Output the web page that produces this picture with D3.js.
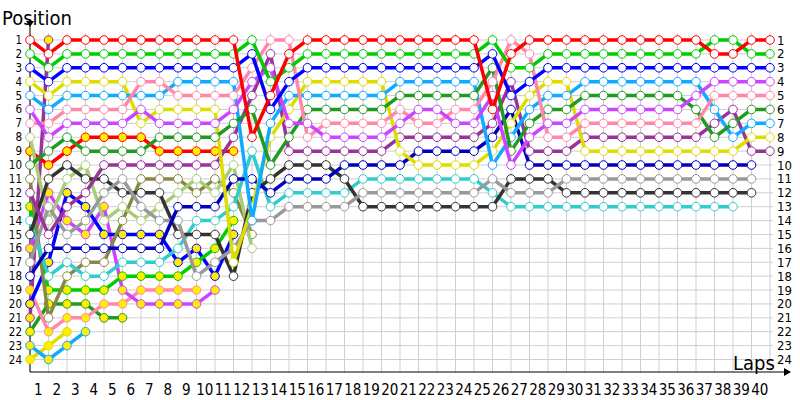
<!DOCTYPE html>
<meta charset="utf-8">
<style>
    body { margin: 0; background: #fff; }
    text { font-family: "DejaVu Sans Condensed", "DejaVu Sans", sans-serif; fill: #000; }
    .grid line { stroke: #cfcfcf; stroke-width: 1px; }
    .line { fill: none; stroke-width: 3.5px; stroke-linejoin: round; }
</style>
<svg width="800" height="400"></svg>
<script src="https://cdn.jsdelivr.net/npm/d3@7/dist/d3.min.js"></script>
<script>

    // position after each lap (index 0 = grid), null = retired
    var laps = d3.range(1, 41);
    var positions = d3.range(1, 25);

    var redW = [1,2,1,1,1,1,1,1,1,1,1,1,8,5,2,1,1,1,1,1,1,1,1,1,1,6,2,1,1,1,1,1,1,1,1,1,1,2,2,1,1];
    var greenW = [2,3,2,2,2,2,2,2,2,2,2,2,1,4,3,2,2,2,2,2,2,2,2,2,2,1,3,3,2,2,2,2,2,2,2,2,2,1,1,2,2];
    var blueW = [3,4,3,3,3,3,3,3,3,3,3,3,2,6,4,3,3,3,3,3,3,3,3,3,3,2,5,4,3,3,3,3,3,3,3,3,3,3,3,3,3];
    var yellowW = [4,5,4,4,4,4,7,6,6,6,6,17,13,8,6,4,4,4,4,4,9,10,10,10,10,9,7,5,4,4,9,9,9,9,9,9,9,9,9,8,8];
    var lightblueW = [5,6,5,5,5,5,5,5,4,4,4,4,14,7,5,5,5,5,5,5,4,4,4,4,4,10,8,6,5,5,4,4,4,4,4,4,4,6,8,7,7];
    var pinkW = [7,7,6,6,6,6,4,4,5,5,5,5,3,1,1,8,7,7,7,7,6,7,7,6,6,4,1,2,8,8,7,7,7,7,7,7,7,5,5,5,5];
    var violetW = [6,8,7,7,7,7,6,7,7,7,7,6,4,3,7,7,8,8,8,8,7,6,6,7,7,5,10,8,7,7,6,6,6,6,6,6,5,4,4,4,4];
    var dkgreenW = [10,9,8,9,9,9,9,8,8,8,8,7,6,10,8,6,6,6,6,6,5,5,5,5,5,3,9,7,6,6,5,5,5,5,5,5,6,8,7,6,6];
    var purpleW = [12,15,13,12,10,10,10,10,10,10,10,8,5,2,9,9,9,9,9,9,8,8,8,8,8,7,4,9,9,9,8,8,8,8,8,8,8,7,6,9,9];
    var navyW = [18,16,16,16,16,16,16,16,13,13,13,11,11,12,11,11,11,10,10,10,10,9,9,9,9,8,6,10,10,10,10,10,10,10,10,10,10,10,10,10,null];
    var blackW = [15,11,10,11,11,12,12,12,15,15,15,18,12,11,10,10,10,11,13,13,13,13,13,13,13,13,11,11,11,12,12,12,12,12,12,12,12,12,12,12,null];
    var cyanW = [14,18,17,18,18,17,17,17,16,14,14,13,9,13,12,12,12,12,11,11,11,11,11,11,11,12,13,13,13,13,13,13,13,13,13,13,13,13,13,null,null];
    var grayW = [17,13,15,14,12,11,13,14,14,18,17,16,14,14,13,13,13,13,12,12,12,12,12,12,12,11,12,12,12,11,11,11,11,11,11,11,11,11,11,11,null];
    var oliveW = [11,21,18,17,17,14,11,11,11,12,11,12,15];
    var lightgreenW = [8,14,11,10,14,13,14,13,12,11,12,10,16];
    var redY = [9,10,9,8,8,8,8,9,9,9,9,9];
    var greenY = [13,19,19,19,19,18,18,18,18,17,16,14];
    var blueY = [20,17,12,13,15,15,15,15,17,16,18,15];
    var yellowY = [24,23,22];
    var lightblueY = [23,24,23,22];
    var pinkY = [19,22,21,21,20,20,19,19,19,19];
    var violetY = [16,12,14,15,13,19,20,20,20,20,19];
    var dkgreenY = [22,20,20,20,21,21];
    var purpleY = [21,1];

    var series = [
        {pos: purpleY, color: "#993399", fill: "#ffee00"},
        {pos: dkgreenY, color: "#229922", fill: "#ffee00"},
        {pos: yellowY, color: "#dddd00", fill: "#ffee00"},
        {pos: lightblueY, color: "#11aaff", fill: "#ffee00"},
        {pos: pinkY, color: "#ff88aa", fill: "#ffee00"},
        {pos: violetY, color: "#cc44ff", fill: "#ffee00"},
        {pos: blueY, color: "#0000ff", fill: "#ffee00"},
        {pos: greenY, color: "#00cc00", fill: "#ffee00"},
        {pos: redY, color: "#ff0000", fill: "#ffee00"},
        {pos: oliveW, color: "#888844", fill: "#fff"},
        {pos: lightgreenW, color: "#aacc77", fill: "#fff"},
        {pos: cyanW, color: "#33cccc", fill: "#fff"},
        {pos: blackW, color: "#333333", fill: "#fff"},
        {pos: grayW, color: "#999999", fill: "#fff"},
        {pos: navyW, color: "#0000bb", fill: "#fff"},
        {pos: purpleW, color: "#993399", fill: "#fff"},
        {pos: yellowW, color: "#dddd00", fill: "#fff"},
        {pos: lightblueW, color: "#11aaff", fill: "#fff"},
        {pos: dkgreenW, color: "#229922", fill: "#fff"},
        {pos: pinkW, color: "#ff88aa", fill: "#fff"},
        {pos: violetW, color: "#cc44ff", fill: "#fff"},
        {pos: blueW, color: "#0000ff", fill: "#fff"},
        {pos: greenW, color: "#00cc00", fill: "#fff"},
        {pos: redW, color: "#ff0000", fill: "#fff"}
    ];

    var svg = d3.select("svg");

    var x = d3.scaleLinear().domain([0, 40]).range([30, 770]),
        y = d3.scaleLinear().domain([1, 24]).range([40, 359.5]);

    var grid = svg.append("g").attr("class", "grid");
    grid.selectAll(".v").data(d3.range(0, 41)).enter().append("line")
        .attr("x1", function(d) { return x(d); })
        .attr("x2", function(d) { return x(d); })
        .attr("y1", 33).attr("y2", 372);
    grid.selectAll(".h").data(positions).enter().append("line")
        .attr("x1", 30).attr("x2", 773)
        .attr("y1", function(d) { return y(d); })
        .attr("y2", function(d) { return y(d); });

    // axes
    svg.append("line").attr("x1", 30).attr("x2", 30).attr("y1", 372).attr("y2", 26)
        .attr("stroke", "#000").attr("stroke-width", 1);
    svg.append("path").attr("d", "M26,21L34,21L30,27Z").attr("fill", "#000");
    svg.append("line").attr("x1", 30).attr("x2", 790).attr("y1", 372).attr("y2", 372)
        .attr("stroke", "#000").attr("stroke-width", 1);
    svg.append("path").attr("d", "M784,368L791,372L784,376Z").attr("fill", "#000");

    svg.append("text").attr("x", 2).attr("y", 25).style("font-size", "20px").text("Position");
    svg.append("text").attr("x", 733).attr("y", 370).style("font-size", "20px").text("Laps");

    svg.append("g").selectAll("text").data(positions).enter().append("text")
        .attr("x", 22).attr("y", function(d) { return y(d); })
        .attr("dy", "0.35em").attr("text-anchor", "end")
        .style("font-size", "11.5px")
        .text(function(d) { return d; });

    svg.append("g").selectAll("text").data(positions).enter().append("text")
        .attr("x", 777).attr("y", function(d) { return y(d); })
        .attr("dy", "0.35em")
        .style("font-size", "13px")
        .text(function(d) { return d; });

    svg.append("g").selectAll("text").data(laps).enter().append("text")
        .attr("x", function(d) { return x(d - 0.5) - 1; })
        .attr("y", 395).attr("text-anchor", "middle")
        .style("font-size", "15px")
        .text(function(d) { return d; });

    var line = d3.line()
        .defined(function(d) { return d != null; })
        .x(function(d, i) { return x(i); })
        .y(function(d) { return y(d); });

    var driver = svg.selectAll(".driver").data(series).enter().append("g").attr("class", "driver");

    driver.append("path")
        .attr("class", "line")
        .attr("d", function(d) { return line(d.pos); })
        .style("stroke", function(d) { return d.color; });

    driver.each(function(s) {
        var pts = s.pos.map(function(p, i) { return {i: i, p: p}; }).filter(function(d) { return d.p != null; });
        d3.select(this).selectAll("circle").data(pts).enter().append("circle")
            .attr("cx", function(d) { return x(d.i); })
            .attr("cy", function(d) { return y(d.p); })
            .attr("r", 4.3)
            .attr("fill", s.fill)
            .attr("stroke", s.color)
            .attr("stroke-width", 1);
    });

</script>
